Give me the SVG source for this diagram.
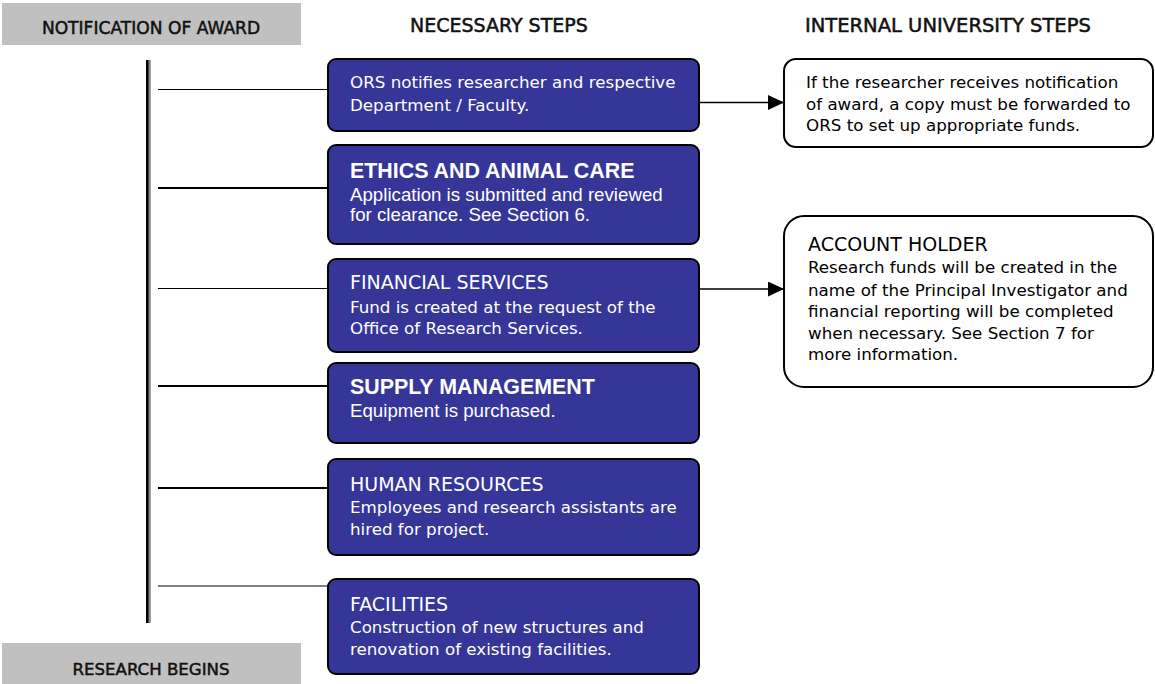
<svg xmlns="http://www.w3.org/2000/svg" width="1155" height="684" viewBox="0 0 1155 684">
  <defs>
    <style>
      .bar { fill: #c0c0c0; }
      .hdr { font-family: "DejaVu Sans", "Liberation Sans", sans-serif; fill: #111; stroke: #111; stroke-width: 0.5; }
      .blue { fill: #363699; stroke: #000; stroke-width: 2; }
      .white { fill: #fff; stroke: #000; stroke-width: 2; }
      .t { font-family: "DejaVu Sans", "Liberation Sans", sans-serif; font-size: 16.7px; }
      .th { font-family: "DejaVu Sans", "Liberation Sans", sans-serif; font-size: 19px; }
      .a { font-family: "Liberation Sans", Arial, sans-serif; font-size: 18.7px; }
      .ab { font-family: "Liberation Sans", Arial, sans-serif; font-size: 21.4px; font-weight: bold; }
      .w { fill: #fff; }
      .k { fill: #000; }
      .conn { stroke: #000; fill: none; }
    </style>
    <marker id="arrow" markerUnits="userSpaceOnUse" markerWidth="17" markerHeight="16" refX="16" refY="7.5" orient="auto">
      <path d="M0,0 L16,7.5 L0,15 Z" fill="#000"/>
    </marker>
  </defs>

  <g id="header-notification">
    <rect class="bar" x="2" y="3" width="299" height="42"/>
    <text class="hdr" x="151" y="34" font-size="17.1" text-anchor="middle">NOTIFICATION OF AWARD</text>
  </g>
  <g id="header-necessary">
    <text class="hdr" x="410" y="32" font-size="19">NECESSARY STEPS</text>
  </g>
  <g id="header-internal">
    <text class="hdr" x="805" y="32" font-size="19.5">INTERNAL UNIVERSITY STEPS</text>
  </g>
  <g id="footer-research">
    <rect class="bar" x="2" y="643" width="299" height="41"/>
    <text class="hdr" x="151" y="675" font-size="16.6" text-anchor="middle">RESEARCH BEGINS</text>
  </g>

  <g id="connectors">
    <rect x="146" y="60" width="2.8" height="563" fill="#000"/>
    <rect x="148.8" y="60" width="2" height="563" fill="#8a8a8a"/>
    <line class="conn" x1="158" y1="89.5" x2="329" y2="89.5" stroke-width="1.2"/>
    <line class="conn" x1="158" y1="188" x2="329" y2="188" stroke-width="2"/>
    <line class="conn" x1="158" y1="288.5" x2="329" y2="288.5" stroke-width="1.2"/>
    <line class="conn" x1="158" y1="386" x2="329" y2="386" stroke-width="2"/>
    <line class="conn" x1="158" y1="488" x2="329" y2="488" stroke-width="2"/>
    <line x1="158" y1="586" x2="329" y2="586" stroke="#808080" stroke-width="2"/>
    <line class="conn" x1="700" y1="102.5" x2="784" y2="102.5" stroke-width="1.5" marker-end="url(#arrow)"/>
    <line class="conn" x1="700" y1="289" x2="784" y2="289" stroke-width="1.5" marker-end="url(#arrow)"/>
  </g>

  <g id="step-ors">
    <rect class="blue" x="328" y="59" width="371" height="72" rx="8"/>
    <text class="t w" x="350" y="88">ORS notifies researcher and respective</text>
    <text class="t w" x="350" y="110.5">Department / Faculty.</text>
  </g>
  <g id="step-ethics">
    <rect class="blue" x="328" y="145" width="371" height="99" rx="8"/>
    <text class="ab w" x="350" y="178">ETHICS AND ANIMAL CARE</text>
    <text class="a w" x="350" y="200.5">Application is submitted and reviewed</text>
    <text class="a w" x="350" y="221">for clearance. See Section 6.</text>
  </g>
  <g id="step-financial">
    <rect class="blue" x="328" y="259" width="371" height="93" rx="8"/>
    <text class="th w" x="350" y="289">FINANCIAL SERVICES</text>
    <text class="t w" x="350" y="312.5">Fund is created at the request of the</text>
    <text class="t w" x="350" y="334">Office of Research Services.</text>
  </g>
  <g id="step-supply">
    <rect class="blue" x="328" y="363" width="371" height="80" rx="8"/>
    <text class="ab w" x="350" y="394">SUPPLY MANAGEMENT</text>
    <text class="a w" x="350" y="417">Equipment is purchased.</text>
  </g>
  <g id="step-hr">
    <rect class="blue" x="328" y="459" width="371" height="96" rx="8"/>
    <text class="th w" x="350" y="490.5">HUMAN RESOURCES</text>
    <text class="t w" x="350" y="513">Employees and research assistants are</text>
    <text class="t w" x="350" y="535">hired for project.</text>
  </g>
  <g id="step-facilities">
    <rect class="blue" x="328" y="579" width="371" height="95" rx="8"/>
    <text class="th w" x="350" y="610.5">FACILITIES</text>
    <text class="t w" x="350" y="633">Construction of new structures and</text>
    <text class="t w" x="350" y="654.5">renovation of existing facilities.</text>
  </g>

  <g id="internal-copy">
    <rect class="white" x="784" y="59" width="369" height="88" rx="12"/>
    <text class="t k" x="806" y="87.5">If the researcher receives notification</text>
    <text class="t k" x="806" y="109.5">of award, a copy must be forwarded to</text>
    <text class="t k" x="806" y="131">ORS to set up appropriate funds.</text>
  </g>
  <g id="internal-account">
    <rect class="white" x="784" y="216" width="369" height="171" rx="20"/>
    <text class="th k" x="808" y="250.5">ACCOUNT HOLDER</text>
    <text class="t k" x="808" y="273">Research funds will be created in the</text>
    <text class="t k" x="808" y="295.5">name of the Principal Investigator and</text>
    <text class="t k" x="808" y="317">financial reporting will be completed</text>
    <text class="t k" x="808" y="338.5">when necessary. See Section 7 for</text>
    <text class="t k" x="808" y="360">more information.</text>
  </g>
</svg>
